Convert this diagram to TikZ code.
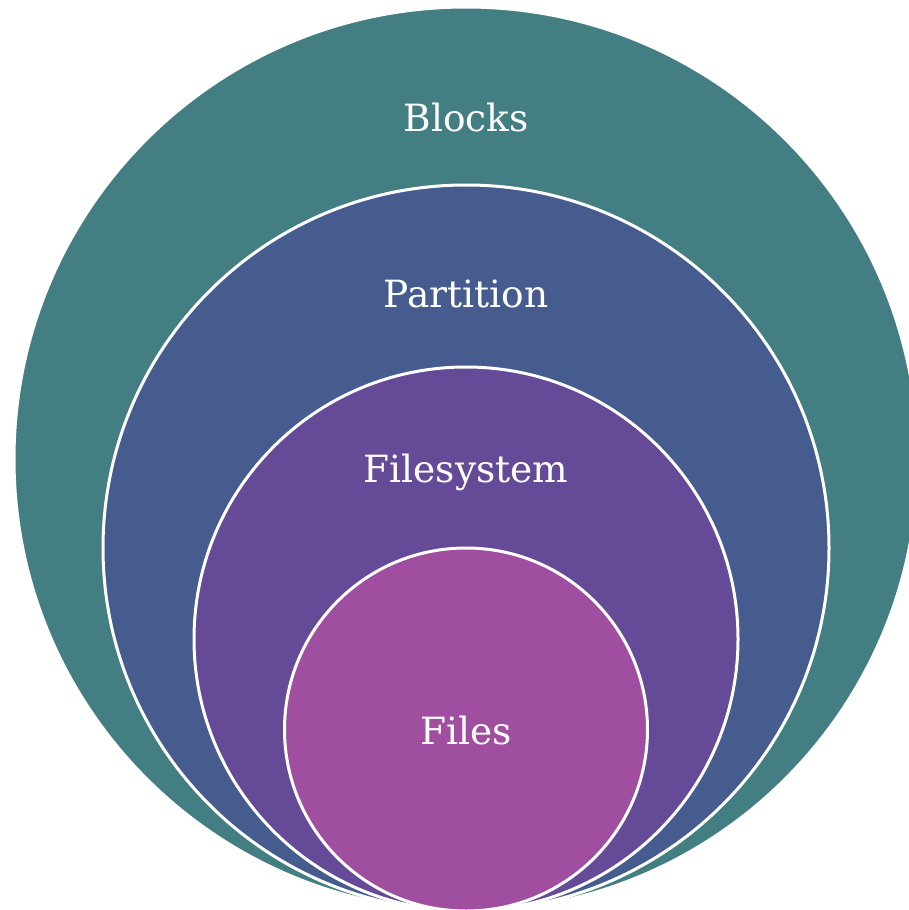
\documentclass[tikz,border=0pt]{standalone}
\usepackage{fontspec}
\setmainfont{DejaVu Serif}
\definecolor{cteal}{RGB}{67,127,130}
\definecolor{cblue}{RGB}{70,91,142}
\definecolor{cpurple}{RGB}{101,74,151}
\definecolor{cmagenta}{RGB}{160,78,160}
\begin{document}
\begin{tikzpicture}[x=1pt,y=1pt,
  ring/.style={circle, draw=white, line width=3pt, inner sep=0pt, minimum size=#1},
  lbl/.style={text=white, font=\fontsize{37.5}{42}\selectfont, inner sep=0pt, anchor=base}]
\useasboundingbox (0,0) rectangle (908,-910);
\node[ring=904pt, fill=cteal] (blocks) at (466,-459) {};
\node[ring=726pt, fill=cblue] (partition) at (466,-548) {};
\node[ring=544pt, fill=cpurple] (filesystem) at (466,-639) {};
\node[ring=363pt, fill=cmagenta] (files) at (466,-729.5) {};
\node[lbl] (tblocks) at (466,-131) {Blocks};
\node[lbl] (tpartition) at (466,-307) {Partition};
\node[lbl] (tfilesystem) at (466,-482) {Filesystem};
\node[lbl] (tfiles) at (466,-744) {Files};
\end{tikzpicture}
\end{document}
